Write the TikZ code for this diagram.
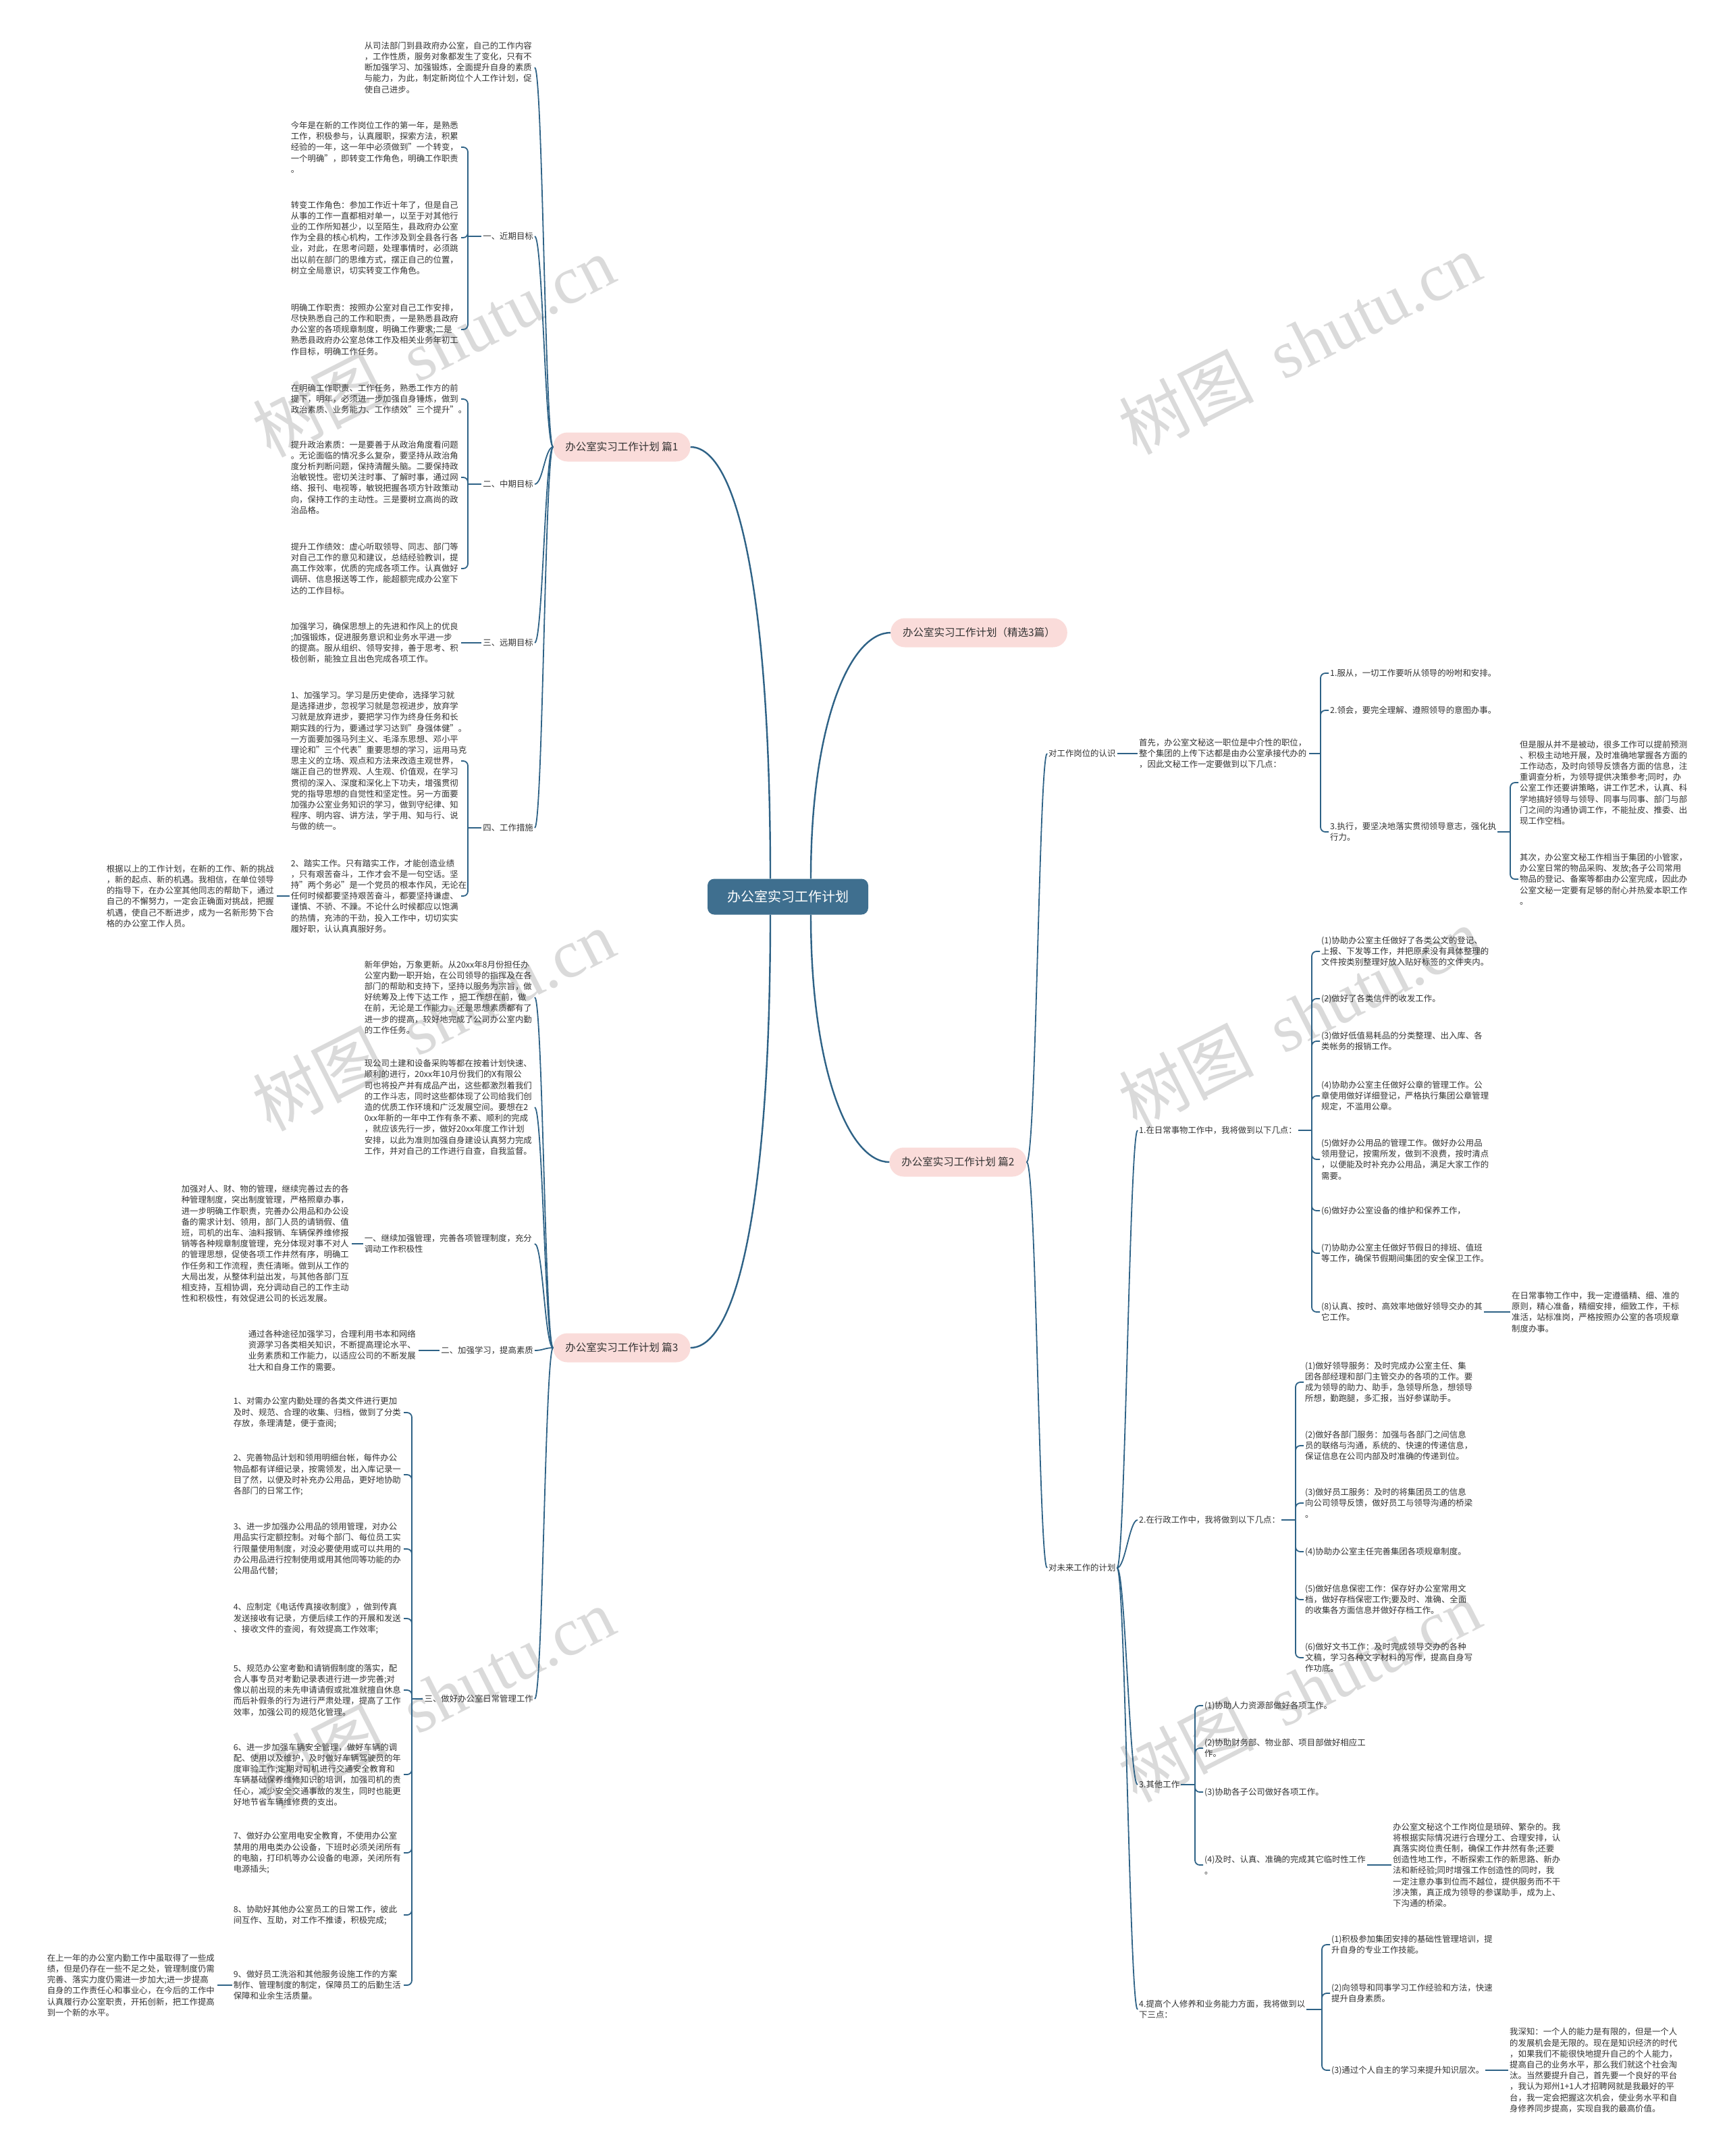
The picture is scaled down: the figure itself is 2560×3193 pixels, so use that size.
\documentclass[tikz,border=0pt]{standalone}
\usepackage{fontspec}
\setmainfont{Noto Sans CJK SC}
\newfontfamily\wmlatin{Liberation Serif}
\usetikzlibrary{calc}

\definecolor{linec}{HTML}{2E6286}
\definecolor{rootc}{HTML}{3F6F8F}
\definecolor{pinkc}{HTML}{FADCDA}
\definecolor{txtc}{HTML}{333333}
\definecolor{wmc}{HTML}{DADADA}

\newcommand{\txtfont}{\fontsize{12.4}{16.2}\selectfont}

\begin{document}
\begin{tikzpicture}[x=1pt,y=-1pt,
    link/.style={draw=linec,line width=1.8pt},
    mainlink/.style={draw=linec,line width=2.4pt},
    rootbox/.style={fill=rootc,text=white,rounded corners=10pt,
      minimum width=238pt,minimum height=53pt,font=\fontsize{20}{24}\selectfont},
    branch/.style={fill=pinkc,text=txtc,rounded corners=21pt,minimum height=43pt,
      inner xsep=18pt,font=\fontsize{15.5}{18}\selectfont},
    lbl/.style={text=txtc,align=left,inner xsep=2pt,inner ysep=1pt,font=\txtfont},
    txt/.style={lbl,text width=250pt},
    wm/.style={text=wmc,rotate=27,font=\fontsize{100}{110}\selectfont}
  ]
  \useasboundingbox (0,0) rectangle (2560,3193);
  \fill[white] (0,0) rectangle (2560,3193);

  % watermarks
  \foreach \wx/\wy [count=\k] in {642/513,1925/509,642/1511,1925/1507,642/2515,1925/2505}
    \node[wm] (wm\k) at (\wx,\wy) {树图\ \ {\wmlatin shutu.cn}};

  % centre and branches
  \node[rootbox] (root) at (1167,1328) {办公室实习工作计划};
  \node[branch] (b0) at (1450,937) {办公室实习工作计划（精选3篇）};
  \node[branch] (b1) at (921,662) {办公室实习工作计划 篇1};
  \node[branch] (b2) at (1419,1721) {办公室实习工作计划 篇2};
  \node[branch] (b3) at (921,1996) {办公室实习工作计划 篇3};

  \draw[mainlink] ($(root.north)+(-26,0)$) .. controls +(0,-420) and +(70,0) .. (b1.east);
  \draw[mainlink] ($(root.south)+(-26,0)$) .. controls +(0,420) and +(70,0) .. (b3.east);
  \draw[mainlink] ($(root.north)+(34,0)$) .. controls +(0,-230) and +(-60,0) .. (b0.west);
  \draw[mainlink] ($(root.south)+(34,0)$) .. controls +(0,230) and +(-60,0) .. (b2.west);

  % ---- 篇1 ----
  \node[txt,anchor=east] (p1i) at (792,100) {从司法部门到县政府办公室，自己的工作内容\\，工作性质，服务对象都发生了变化，只有不\\断加强学习、加强锻炼，全面提升自身的素质\\与能力，为此，制定新岗位个人工作计划，促\\使自己进步。};
  \node[lbl,anchor=east] (p1a) at (792,350) {一、近期目标};
  \node[txt,anchor=east] (p1a1) at (683,218) {今年是在新的工作岗位工作的第一年，是熟悉\\工作，积极参与，认真履职，探索方法，积累\\经验的一年，这一年中必须做到"一个转变，\\一个明确"，即转变工作角色，明确工作职责\\。};
  \node[txt,anchor=east] (p1a2) at (683,352) {转变工作角色：参加工作近十年了，但是自己\\从事的工作一直都相对单一，以至于对其他行\\业的工作所知甚少，以至陌生，县政府办公室\\作为全县的核心机构，工作涉及到全县各行各\\业，对此，在思考问题，处理事情时，必须跳\\出以前在部门的思维方式，摆正自己的位置，\\树立全局意识，切实转变工作角色。};
  \node[txt,anchor=east] (p1a3) at (683,488) {明确工作职责：按照办公室对自己工作安排，\\尽快熟悉自己的工作和职责，一是熟悉县政府\\办公室的各项规章制度，明确工作要求;二是\\熟悉县政府办公室总体工作及相关业务年初工\\作目标，明确工作任务。};
  \node[lbl,anchor=east] (p1b) at (792,717) {二、中期目标};
  \node[txt,anchor=east] (p1b1) at (683,591) {在明确工作职责、工作任务，熟悉工作方的前\\提下，明年，必须进一步加强自身锤炼，做到\\政治素质、业务能力、工作绩效"三个提升"。};
  \node[txt,anchor=east] (p1b2) at (683,707) {提升政治素质：一是要善于从政治角度看问题\\。无论面临的情况多么复杂，要坚持从政治角\\度分析判断问题，保持清醒头脑。二要保持政\\治敏锐性。密切关注时事、了解时事，通过网\\络、报刊、电视等，敏锐把握各项方针政策动\\向，保持工作的主动性。三是要树立高尚的政\\治品格。};
  \node[txt,anchor=east] (p1b3) at (683,842) {提升工作绩效：虚心听取领导、同志、部门等\\对自己工作的意见和建议，总结经验教训，提\\高工作效率，优质的完成各项工作。认真做好\\调研、信息报送等工作，能超额完成办公室下\\达的工作目标。};
  \node[lbl,anchor=east] (p1c) at (792,952) {三、远期目标};
  \node[txt,anchor=east] (p1c1) at (683,952) {加强学习，确保思想上的先进和作风上的优良\\;加强锻炼，促进服务意识和业务水平进一步\\的提高。服从组织、领导安排，善于思考、积\\极创新，能独立且出色完成各项工作。};
  \node[lbl,anchor=east] (p1d) at (792,1226) {四、工作措施};
  \node[txt,anchor=east] (p1d1) at (683,1127) {1、加强学习。学习是历史使命，选择学习就\\是选择进步，忽视学习就是忽视进步，放弃学\\习就是放弃进步，要把学习作为终身任务和长\\期实践的行为，要通过学习达到"身强体健"。\\一方面要加强马列主义、毛泽东思想、邓小平\\理论和"三个代表"重要思想的学习，运用马克\\思主义的立场、观点和方法来改造主观世界，\\端正自己的世界观、人生观、价值观，在学习\\贯彻的深入、深度和深化上下功夫，增强贯彻\\党的指导思想的自觉性和坚定性。另一方面要\\加强办公室业务知识的学习，做到守纪律、知\\程序、明内容、讲方法，学于用、知与行、说\\与做的统一。};
  \node[txt,anchor=east] (p1d2) at (683,1327) {2、踏实工作。只有踏实工作，才能创造业绩\\，只有艰苦奋斗，工作才会不是一句空话。坚\\持"两个务必"是一个党员的根本作风，无论在\\任何时候都要坚持艰苦奋斗，都要坚持谦虚、\\谨慎、不骄、不躁。不论什么时候都应以饱满\\的热情，充沛的干劲，投入工作中，切切实实\\履好职，认认真真服好务。};
  \node[txt,anchor=east] (p1end) at (410,1327) {根据以上的工作计划，在新的工作、新的挑战\\，新的起点、新的机遇。我相信，在单位领导\\的指导下，在办公室其他同志的帮助下，通过\\自己的不懈努力，一定会正确面对挑战，把握\\机遇，使自己不断进步，成为一名新形势下合\\格的办公室工作人员。};

  \foreach \c in {p1i,p1a,p1b,p1c,p1d}
    \draw[link] (b1.west) .. controls +(-12,0) and +(12,0) .. (\c.east);
  \path (p1a1.east |- p1a.west) ++(10,0) coordinate (j1a);
  \draw[link] (p1a.west) -- (j1a);
  \foreach \c in {p1a1,p1a2,p1a3} \draw[link,rounded corners=7pt] (j1a) |- (\c.east);
  \path (p1b1.east |- p1b.west) ++(10,0) coordinate (j1b);
  \draw[link] (p1b.west) -- (j1b);
  \foreach \c in {p1b1,p1b2,p1b3} \draw[link,rounded corners=7pt] (j1b) |- (\c.east);
  \draw[link] (p1c.west) -- (p1c1.east);
  \path (p1d1.east |- p1d.west) ++(10,0) coordinate (j1d);
  \draw[link] (p1d.west) -- (j1d);
  \foreach \c in {p1d1,p1d2} \draw[link,rounded corners=7pt] (j1d) |- (\c.east);
  \draw[link] (p1d2.west) -- (p1end.east);

  % ---- 篇3 ----
  \node[txt,anchor=east] (p3i1) at (792,1477) {新年伊始，万象更新。从20xx年8月份担任办\\公室内勤一职开始，在公司领导的指挥及在各\\部门的帮助和支持下，坚持以服务为宗旨，做\\好统筹及上传下达工作 ，把工作想在前，做\\在前，无论是工作能力，还是思想素质都有了\\进一步的提高，较好地完成了公司办公室内勤\\的工作任务。};
  \node[txt,anchor=east] (p3i2) at (792,1640) {现公司土建和设备采购等都在按着计划快速、\\顺利的进行，20xx年10月份我们的X有限公\\司也将投产并有成品产出，这些都激烈着我们\\的工作斗志，同时这些都体现了公司给我们创\\造的优质工作环境和广泛发展空间。要想在2\\0xx年新的一年中工作有条不紊、顺利的完成\\，就应该先行一步，做好20xx年度工作计划\\安排，以此为准则加强自身建设认真努力完成\\工作，并对自己的工作进行自查，自我监督。};
  \node[txt,anchor=east] (p3a) at (792,1842) {一、继续加强管理，完善各项管理制度，充分\\调动工作积极性};
  \node[txt,anchor=east] (p3a1) at (521,1842) {加强对人、财、物的管理，继续完善过去的各\\种管理制度，突出制度管理，严格照章办事，\\进一步明确工作职责，完善办公用品和办公设\\备的需求计划、领用，部门人员的请销假、值\\班，司机的出车、油料报销、车辆保养维修报\\销等各种规章制度管理，充分体现对事不对人\\的管理思想，促使各项工作井然有序，明确工\\作任务和工作流程，责任清晰。做到从工作的\\大局出发，从整体利益出发，与其他各部门互\\相支持，互相协调，充分调动自己的工作主动\\性和积极性，有效促进公司的长远发展。};
  \node[lbl,anchor=east] (p3b) at (792,2000) {二、加强学习，提高素质};
  \node[txt,anchor=east] (p3b1) at (620,2000) {通过各种途径加强学习，合理利用书本和网络\\资源学习各类相关知识，不断提高理论水平、\\业务素质和工作能力，以适应公司的不断发展\\壮大和自身工作的需要。};
  \node[lbl,anchor=east] (p3c) at (792,2516) {三、做好办公室日常管理工作};
  \node[txt,anchor=east] (p3c1) at (598,2092) {1、对需办公室内勤处理的各类文件进行更加\\及时、规范、合理的收集、归档，做到了分类\\存放，条理清楚，便于查阅;};
  \node[txt,anchor=east] (p3c2) at (598,2184) {2、完善物品计划和领用明细台帐，每件办公\\物品都有详细记录，按需领发，出入库记录一\\目了然，以便及时补充办公用品，更好地协助\\各部门的日常工作;};
  \node[txt,anchor=east] (p3c3) at (598,2294) {3、进一步加强办公用品的领用管理，对办公\\用品实行定额控制。对每个部门、每位员工实\\行限量使用制度，对没必要使用或可以共用的\\办公用品进行控制使用或用其他同等功能的办\\公用品代替;};
  \node[txt,anchor=east] (p3c4) at (598,2397) {4、应制定《电话传真接收制度》，做到传真\\发送接收有记录，方便后续工作的开展和发送\\、接收文件的查阅，有效提高工作效率;};
  \node[txt,anchor=east] (p3c5) at (598,2503) {5、规范办公室考勤和请销假制度的落实，配\\合人事专员对考勤记录表进行进一步完善;对\\像以前出现的未先申请请假或批准就擅自休息\\而后补假条的行为进行严肃处理，提高了工作\\效率，加强公司的规范化管理。};
  \node[txt,anchor=east] (p3c6) at (598,2628) {6、进一步加强车辆安全管理，做好车辆的调\\配、使用以及维护，及时做好车辆驾驶员的年\\度审验工作;定期对司机进行交通安全教育和\\车辆基础保养维修知识的培训，加强司机的责\\任心，减少安全交通事故的发生，同时也能更\\好地节省车辆维修费的支出。};
  \node[txt,anchor=east] (p3c7) at (598,2744) {7、做好办公室用电安全教育，不使用办公室\\禁用的用电类办公设备，下班时必须关闭所有\\的电脑，打印机等办公设备的电源，关闭所有\\电源插头;};
  \node[txt,anchor=east] (p3c8) at (598,2836) {8、协助好其他办公室员工的日常工作，彼此\\间互作、互助，对工作不推诿，积极完成;};
  \node[txt,anchor=east] (p3c9) at (598,2940) {9、做好员工洗浴和其他服务设施工作的方案\\制作、管理制度的制定，保障员工的后勤生活\\保障和业余生活质量。};
  \node[txt,anchor=east] (p3end) at (322,2940) {在上一年的办公室内勤工作中虽取得了一些成\\绩，但是仍存在一些不足之处，管理制度仍需\\完善、落实力度仍需进一步加大;进一步提高\\自身的工作责任心和事业心，在今后的工作中\\认真履行办公室职责，开拓创新，把工作提高\\到一个新的水平。};

  \foreach \c in {p3i1,p3i2,p3a,p3b,p3c}
    \draw[link] (b3.west) .. controls +(-12,0) and +(12,0) .. (\c.east);
  \draw[link] (p3a.west) -- (p3a1.east);
  \draw[link] (p3b.west) -- (p3b1.east);
  \path (p3c1.east |- p3c.west) ++(12,0) coordinate (j3c);
  \draw[link] (p3c.west) -- (j3c);
  \foreach \c in {p3c1,p3c2,p3c3,p3c4,p3c5,p3c6,p3c7,p3c8,p3c9}
    \draw[link,rounded corners=7pt] (j3c) |- (\c.east);
  \draw[link] (p3c9.west) -- (p3end.east);

  % ---- 篇2 ----
  \node[lbl,anchor=west] (p2a) at (1551,1116) {对工作岗位的认识};
  \node[txt,anchor=west] (p2a0) at (1685,1116) {首先，办公室文秘这一职位是中介性的职位，\\整个集团的上传下达都是由办公室承接代办的\\，因此文秘工作一定要做到以下几点：};
  \node[lbl,anchor=west] (p2a1) at (1968,997) {1.服从，一切工作要听从领导的吩咐和安排。};
  \node[lbl,anchor=west] (p2a2) at (1968,1052) {2.领会，要完全理解、遵照领导的意图办事。};
  \node[lbl,anchor=west] (p2a3) at (1968,1232) {3.执行，要坚决地落实贯彻领导意志，强化执\\行力。};
  \node[txt,anchor=west] (p2a3a) at (2249,1159) {但是服从并不是被动，很多工作可以提前预测\\、积极主动地开展，及时准确地掌握各方面的\\工作动态，及时向领导反馈各方面的信息，注\\重调查分析，为领导提供决策参考;同时，办\\公室工作还要讲策略，讲工作艺术，认真、科\\学地搞好领导与领导、同事与同事、部门与部\\门之间的沟通协调工作，不能扯皮、推委、出\\现工作空档。};
  \node[txt,anchor=west] (p2a3b) at (2249,1302) {其次，办公室文秘工作相当于集团的小管家，\\办公室日常的物品采购、发放;各子公司常用\\物品的登记、备案等都由办公室完成，因此办\\公室文秘一定要有足够的耐心并热爱本职工作\\。};

  \node[lbl,anchor=west] (p2b) at (1551,2322) {对未来工作的计划};
  \node[lbl,anchor=west] (p2b1) at (1685,1674) {1.在日常事物工作中，我将做到以下几点：};
  \node[lbl,anchor=west] (p2b1a) at (1955,1409) {(1)协助办公室主任做好了各类公文的登记、\\上报、下发等工作，并把原来没有具体整理的\\文件按类别整理好放入贴好标签的文件夹内。};
  \node[lbl,anchor=west] (p2b1b) at (1955,1479) {(2)做好了各类信件的收发工作。};
  \node[lbl,anchor=west] (p2b1c) at (1955,1542) {(3)做好低值易耗品的分类整理、出入库、各\\类帐务的报销工作。};
  \node[lbl,anchor=west] (p2b1d) at (1955,1623) {(4)协助办公室主任做好公章的管理工作。公\\章使用做好详细登记，严格执行集团公章管理\\规定，不滥用公章。};
  \node[lbl,anchor=west] (p2b1e) at (1955,1717) {(5)做好办公用品的管理工作。做好办公用品\\领用登记，按需所发，做到不浪费，按时清点\\，以便能及时补充办公用品，满足大家工作的\\需要。};
  \node[lbl,anchor=west] (p2b1f) at (1955,1793) {(6)做好办公室设备的维护和保养工作，};
  \node[lbl,anchor=west] (p2b1g) at (1955,1856) {(7)协助办公室主任做好节假日的排班、值班\\等工作，确保节假期间集团的安全保卫工作。};
  \node[lbl,anchor=west] (p2b1h) at (1955,1943) {(8)认真、按时、高效率地做好领导交办的其\\它工作。};
  \node[txt,anchor=west] (p2b1n) at (2237,1943) {在日常事物工作中，我一定遵循精、细、准的\\原则，精心准备，精细安排，细致工作，干标\\准活，站标准岗，严格按照办公室的各项规章\\制度办事。};

  \node[lbl,anchor=west] (p2b2) at (1685,2251) {2.在行政工作中，我将做到以下几点：};
  \node[lbl,anchor=west] (p2b2a) at (1931,2047) {(1)做好领导服务：及时完成办公室主任、集\\团各部经理和部门主管交办的各项的工作。要\\成为领导的助力、助手，急领导所急，想领导\\所想，勤跑腿，多汇报，当好参谋助手。};
  \node[lbl,anchor=west] (p2b2b) at (1931,2141) {(2)做好各部门服务：加强与各部门之间信息\\员的联络与沟通，系统的、快速的传递信息，\\保证信息在公司内部及时准确的传递到位。};
  \node[lbl,anchor=west] (p2b2c) at (1931,2226) {(3)做好员工服务：及时的将集团员工的信息\\向公司领导反馈，做好员工与领导沟通的桥梁\\。};
  \node[lbl,anchor=west] (p2b2d) at (1931,2298) {(4)协助办公室主任完善集团各项规章制度。};
  \node[lbl,anchor=west] (p2b2e) at (1931,2369) {(5)做好信息保密工作：保存好办公室常用文\\档，做好存档保密工作;要及时、准确、全面\\的收集各方面信息并做好存档工作。};
  \node[lbl,anchor=west] (p2b2f) at (1931,2455) {(6)做好文书工作：及时完成领导交办的各种\\文稿，学习各种文字材料的写作，提高自身写\\作功底。};

  \node[lbl,anchor=west] (p2b3) at (1685,2643) {3.其他工作};
  \node[lbl,anchor=west] (p2b3a) at (1782,2526) {(1)协助人力资源部做好各项工作。};
  \node[lbl,anchor=west] (p2b3b) at (1782,2589) {(2)协助财务部、物业部、项目部做好相应工\\作。};
  \node[lbl,anchor=west] (p2b3c) at (1782,2654) {(3)协助各子公司做好各项工作。};
  \node[lbl,anchor=west] (p2b3d) at (1782,2762) {(4)及时、认真、准确的完成其它临时性工作\\。};
  \node[txt,anchor=west] (p2b3n) at (2061,2762) {办公室文秘这个工作岗位是琐碎、繁杂的。我\\将根据实际情况进行合理分工、合理安排，认\\真落实岗位责任制，确保工作井然有条;还要\\创造性地工作，不断探索工作的新思路、新办\\法和新经验;同时增强工作创造性的同时，我\\一定注意办事到位而不越位，提供服务而不干\\涉决策，真正成为领导的参谋助手，成为上、\\下沟通的桥梁。};

  \node[lbl,anchor=west] (p2b4) at (1685,2976) {4.提高个人修养和业务能力方面，我将做到以\\下三点：};
  \node[lbl,anchor=west] (p2b4a) at (1970,2880) {(1)积极参加集团安排的基础性管理培训，提\\升自身的专业工作技能。};
  \node[lbl,anchor=west] (p2b4b) at (1970,2952) {(2)向领导和同事学习工作经验和方法，快速\\提升自身素质。};
  \node[lbl,anchor=west] (p2b4c) at (1970,3066) {(3)通过个人自主的学习来提升知识层次。};
  \node[txt,anchor=west] (p2b4n) at (2234,3066) {我深知：一个人的能力是有限的，但是一个人\\的发展机会是无限的。现在是知识经济的时代\\，如果我们不能很快地提升自己的个人能力，\\提高自己的业务水平，那么我们就这个社会淘\\汰。当然要提升自己，首先要一个良好的平台\\，我认为郑州1+1人才招聘网就是我最好的平\\台，我一定会把握这次机会，使业务水平和自\\身修养同步提高，实现自我的最高价值。};

  \foreach \c in {p2a,p2b}
    \draw[link] (b2.east) .. controls +(14,0) and +(-12,0) .. (\c.west);
  \draw[link] (p2a.east) -- (p2a0.west);
  \path (p2a1.west |- p2a0.east) ++(-12,0) coordinate (j2a);
  \draw[link] (p2a0.east) -- (j2a);
  \foreach \c in {p2a1,p2a2,p2a3} \draw[link,rounded corners=7pt] (j2a) |- (\c.west);
  \path (p2a3a.west |- p2a3.east) ++(-12,0) coordinate (j2c);
  \draw[link] (p2a3.east) -- (j2c);
  \foreach \c in {p2a3a,p2a3b} \draw[link,rounded corners=7pt] (j2c) |- (\c.west);

  \foreach \c in {p2b1,p2b2,p2b3,p2b4}
    \draw[link] (p2b.east) .. controls +(12,0) and +(-12,0) .. (\c.west);
  \path (p2b1a.west |- p2b1.east) ++(-12,0) coordinate (k1);
  \draw[link] (p2b1.east) -- (k1);
  \foreach \c in {p2b1a,p2b1b,p2b1c,p2b1d,p2b1e,p2b1f,p2b1g,p2b1h}
    \draw[link,rounded corners=7pt] (k1) |- (\c.west);
  \draw[link] (p2b1h.east) -- (p2b1n.west);
  \path (p2b2a.west |- p2b2.east) ++(-12,0) coordinate (k2);
  \draw[link] (p2b2.east) -- (k2);
  \foreach \c in {p2b2a,p2b2b,p2b2c,p2b2d,p2b2e,p2b2f}
    \draw[link,rounded corners=7pt] (k2) |- (\c.west);
  \path (p2b3a.west |- p2b3.east) ++(-12,0) coordinate (k3);
  \draw[link] (p2b3.east) -- (k3);
  \foreach \c in {p2b3a,p2b3b,p2b3c,p2b3d}
    \draw[link,rounded corners=7pt] (k3) |- (\c.west);
  \draw[link] (p2b3d.east) -- (p2b3n.west);
  \path (p2b4a.west |- p2b4.east) ++(-12,0) coordinate (k4);
  \draw[link] (p2b4.east) -- (k4);
  \foreach \c in {p2b4a,p2b4b,p2b4c}
    \draw[link,rounded corners=7pt] (k4) |- (\c.west);
  \draw[link] (p2b4c.east) -- (p2b4n.west);
\end{tikzpicture}
\end{document}
